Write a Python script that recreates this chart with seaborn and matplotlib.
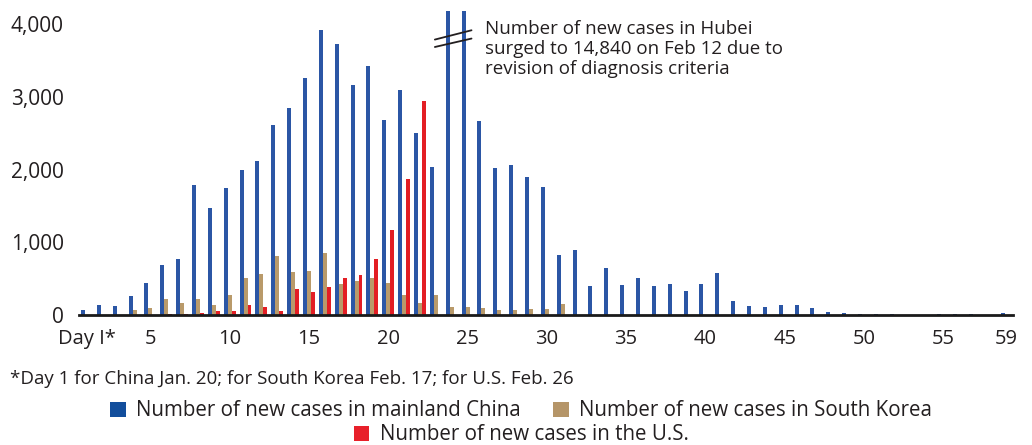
import numpy as np
import pandas as pd
import matplotlib.pyplot as plt
import seaborn as sns
from matplotlib.patches import Patch

days = list(range(1, 60))
china = [70, 140, 124, 261, 440, 687, 769, 1786, 1470, 1744, 1992, 2115, 2610, 2843, 3255,
         3915, 3722, 3159, 3420, 2679, 3091, 2500, 2033, 14840, 5090, 2665, 2019, 2060, 1896, 1758,
         824, 893, 398, 646, 412, 508, 398, 426, 330, 426, 577, 192, 124, 110, 137,
         137, 96, 41, 27, 14, 14, 14, 0, 0, 14, 14, 14, 0, 27]
korea = [0, 0, 0, 69, 96, 220, 165, 220, 137, 275, 508, 563, 810, 590, 604,
         852, 426, 467, 508, 440, 275, 165, 275, 110, 110, 96, 69, 69, 82, 82, 151] + [0] * 28
us = [0, 0, 0, 0, 0, 14, 14, 27, 55, 55, 137, 110, 55, 357, 316,
      385, 508, 549, 769, 1168, 1868, 2940] + [0] * 37

series_names = ["Number of new cases in mainland China",
                "Number of new cases in South Korea",
                "Number of new cases in the U.S."]
bar_colors = ["#2b56a5", "#b99a6a", "#e31e24"]
legend_colors = ["#124e9c", "#b59568", "#e8202a"]

y_ticks = [0, 1000, 2000, 3000, 4000]
x_tick_days = [1, 5, 10, 15, 20, 25, 30, 35, 40, 45, 50, 55, 59]
x_tick_labels = ["Day I*", "5", "10", "15", "20", "25", "30", "35", "40", "45", "50", "55", "59"]
note = "*Day 1 for China Jan. 20; for South Korea Feb. 17; for U.S. Feb. 26"
hubei_note = "Number of new cases in Hubei\nsurged to 14,840 on Feb 12 due to\nrevision of diagnosis criteria"
hubei_day = 24

df = pd.DataFrame({
    "day": days * 3,
    "cases": china + korea + us,
    "series": [s for s in series_names for _ in days],
})

sns.set_style("white")
plt.rcParams["font.family"] = ["Open Sans", "DejaVu Sans"]
txt = "#231f20"

fig = plt.figure(figsize=(10.32, 4.45), dpi=100)
ax = fig.add_axes([0.0766, 0.2921, 0.905, 0.6832])

sns.barplot(data=df, x="day", y="cases", hue="series", hue_order=series_names,
            palette=dict(zip(series_names, bar_colors)), width=0.75, gap=0,
            saturation=1, legend=False, linewidth=0, ax=ax)

ax.set_ylim(0, 4180)
ax.set_xlim(-0.5, 58.4)
ax.set_yticks(y_ticks)
ax.set_yticklabels([f"{v:,}" for v in y_ticks])
ax.set_xticks([d - 1 for d in x_tick_days])
ax.set_xticklabels(x_tick_labels)
ax.set_xlabel("")
ax.set_ylabel("")
ax.tick_params(axis="both", length=0, colors=txt)
ax.tick_params(axis="y", pad=11, labelsize=15)
ax.tick_params(axis="x", pad=10, labelsize=14.5)

for side in ["top", "right", "left"]:
    ax.spines[side].set_visible(False)
ax.spines["bottom"].set_color("#1a1a1a")
ax.spines["bottom"].set_linewidth(2)

# break marks over the clipped Hubei bars
bx = hubei_day - 1
ax.plot([bx - 1.06, bx + 1.25], [3787, 3915], color=txt, lw=1.3, clip_on=False)
ax.plot([bx - 1.06, bx + 1.25], [3685, 3801], color=txt, lw=1.3, clip_on=False)
ax.text(bx + 2.1, 4050, hubei_note, ha="left", va="top", fontsize=13.5, color=txt,
        linespacing=1.14)

fig.text(10 / 1032, 1 - 379 / 445, note, ha="left", va="center", fontsize=13.5, color=txt)

h = [Patch(facecolor=c, edgecolor="none") for c in legend_colors]
fig.legend(h[:2], series_names[:2], ncol=2, loc="center", bbox_to_anchor=(0.505, 1 - 411 / 445),
           frameon=False, fontsize=14.8, handlelength=0.75, handleheight=0.75,
           handletextpad=0.5, columnspacing=1.6, borderpad=0, labelcolor=txt)
fig.legend(h[2:], series_names[2:], loc="center", bbox_to_anchor=(0.505, 1 - 435 / 445),
           frameon=False, fontsize=14.8, handlelength=0.75, handleheight=0.75,
           handletextpad=0.5, borderpad=0, labelcolor=txt)

fig.savefig("out.png", dpi=100)
